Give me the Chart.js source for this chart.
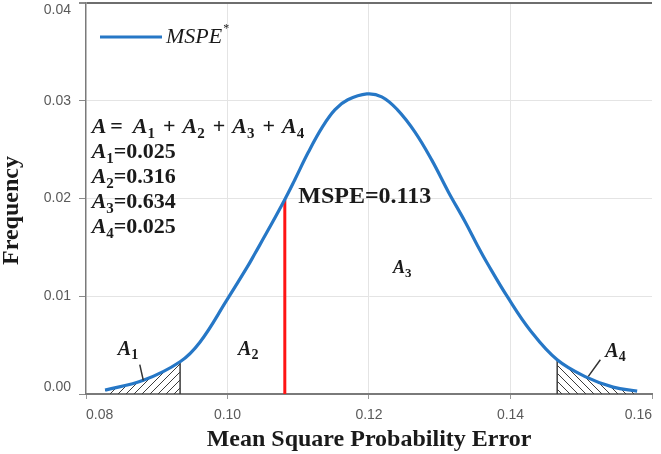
<!DOCTYPE html>
<html>
<head>
<meta charset="utf-8">
<script src="https://cdn.jsdelivr.net/npm/chart.js@4/dist/chart.umd.min.js"></script>
<style>
html,body{margin:0;padding:0;background:#ffffff;}
#wrap{width:661px;height:454px;position:relative;}
</style>
</head>
<body>
<div id="wrap"><canvas id="c" width="661" height="454"></canvas></div>
<script>
// ---- data ----
const mspeX = [0.0827, 0.0881, 0.0933, 0.0961, 0.0999, 0.1028, 0.1039, 0.1060, 0.1081, 0.1095,
               0.1114, 0.1134, 0.1152, 0.1170, 0.1197, 0.1218, 0.1240, 0.1265, 0.1289, 0.1312,
               0.1336, 0.1354, 0.1367, 0.1396, 0.1428, 0.1466, 0.1508, 0.1545, 0.1579];
const mspeY = [0.0004, 0.0014, 0.0033, 0.0053, 0.0096, 0.0130, 0.0144, 0.0171, 0.0199, 0.0219,
               0.0247, 0.0273, 0.0291, 0.0301, 0.0307, 0.0304, 0.0291, 0.0268, 0.0239, 0.0207,
               0.0176, 0.0151, 0.0134, 0.0099, 0.0065, 0.0035, 0.0017, 0.0007, 0.0003];
const xTickValues = [0.08, 0.10, 0.12, 0.14, 0.16];
const yTickValues = [0.00, 0.01, 0.02, 0.03, 0.04];
const areaNames   = ['1', '2', '3', '4'];
const areaValues  = [0.025, 0.316, 0.634, 0.025];
const mspeValue   = 0.113;
const mspeMarkX   = 0.1081;   // where the red marker is drawn on the axis
const tailLeftEnd = 0.0933;   // right edge of hatched A1
const tailRightStart = 0.1466; // left edge of hatched A4

// ---- derived series ----
const curve = mspeX.map((x, i) => ({x, y: mspeY[i]}));
const leftTail = curve.filter(p => p.x <= tailLeftEnd);
const rightTail = curve.filter(p => p.x >= tailRightStart);
const atX = v => curve.find(p => p.x === v).y;
const markerLine = [{x: mspeMarkX, y: 0}, {x: mspeMarkX, y: atX(mspeMarkX)}];
const leftEdge = [{x: tailLeftEnd, y: 0}, {x: tailLeftEnd, y: atX(tailLeftEnd)}];
const rightEdge = [{x: tailRightStart, y: 0}, {x: tailRightStart, y: atX(tailRightStart)}];

const BLUE = '#2677c6';
const SERIF = '"Liberation Serif","Times New Roman",serif';
const SANS = '"Liberation Sans",Arial,sans-serif';

function hatch(dir) {
  const s = 8;
  const c = document.createElement('canvas');
  c.width = s; c.height = s;
  const g = c.getContext('2d');
  g.strokeStyle = '#3c3c3c';
  g.lineWidth = 1;
  g.beginPath();
  if (dir > 0) {
    g.moveTo(-1, s + 1); g.lineTo(s + 1, -1);
    g.moveTo(-3, 3); g.lineTo(3, -3);
    g.moveTo(s - 3, s + 3); g.lineTo(s + 3, s - 3);
  } else {
    g.moveTo(-1, -1); g.lineTo(s + 1, s + 1);
    g.moveTo(-3, s - 3); g.lineTo(3, s + 3);
    g.moveTo(s - 3, -3); g.lineTo(s + 3, 3);
  }
  g.stroke();
  return g.createPattern(c, 'repeat');
}

function rich(ctx, x0, yb, parts) {
  let x = x0;
  for (const p of parts) {
    if (p.gap !== undefined) { x += p.gap; continue; }
    ctx.font = p.f;
    ctx.fillText(p.t, x, yb + (p.dy || 0));
    x += ctx.measureText(p.t).width;
  }
  return x;
}

const iB22 = `italic bold 22px ${SERIF}`;
const B22 = `bold 22px ${SERIF}`;
const S15 = `bold 15px ${SERIF}`;
const iB20 = `italic bold 20px ${SERIF}`;
const S14 = `bold 14px ${SERIF}`;

const annotations = {
  id: 'annotations',
  afterDatasetsDraw(chart) {
    const {ctx, scales: {x, y}, chartArea: ca} = chart;
    const X = v => x.getPixelForValue(v), Y = v => y.getPixelForValue(v);
    ctx.save();
    ctx.textAlign = 'left';
    ctx.textBaseline = 'alphabetic';
    ctx.fillStyle = '#1a1a1a';

    // legend (top-left inside plot)
    const ly = ca.top + 34;
    ctx.strokeStyle = BLUE; ctx.lineWidth = 3;
    ctx.beginPath(); ctx.moveTo(ca.left + 14, ly); ctx.lineTo(ca.left + 76, ly); ctx.stroke();
    rich(ctx, ca.left + 80, ly + 6, [
      {t: 'MSPE', f: `italic 22px ${SERIF}`},
      {gap: 1},
      {t: '*', f: `12px ${SERIF}`, dy: -11}
    ]);

    // formula block
    const bx = X(0.0808), b0 = Y(0.0267);
    rich(ctx, bx, b0, [
      {t: 'A', f: iB22}, {gap: 4}, {t: '=', f: B22}, {gap: 10},
      {t: 'A', f: iB22}, {t: areaNames[0], f: S15, dy: 5}, {gap: 8}, {t: '+', f: B22}, {gap: 7},
      {t: 'A', f: iB22}, {t: areaNames[1], f: S15, dy: 5}, {gap: 8}, {t: '+', f: B22}, {gap: 7},
      {t: 'A', f: iB22}, {t: areaNames[2], f: S15, dy: 5}, {gap: 8}, {t: '+', f: B22}, {gap: 7},
      {t: 'A', f: iB22}, {t: areaNames[3], f: S15, dy: 5}
    ]);
    areaValues.forEach((v, i) => {
      rich(ctx, bx, b0 + 25 * (i + 1), [
        {t: 'A', f: iB22}, {t: areaNames[i], f: S15, dy: 5},
        {t: '=' + v.toFixed(3), f: B22}
      ]);
    });

    // MSPE label
    ctx.font = `bold 24px ${SERIF}`;
    ctx.fillText('MSPE=' + mspeValue.toFixed(3), X(0.1100), Y(0.0195));

    // region labels
    const lab = (xv, yv, k, big, small, dy) =>
      rich(ctx, X(xv), Y(yv), [{t: 'A', f: big}, {t: areaNames[k], f: small, dy: dy}]);
    lab(0.0845, 0.0040, 0, iB20, S14, 4);
    lab(0.1015, 0.0040, 1, iB20, S14, 4);
    lab(0.1234, 0.0124, 2, `italic bold 18px ${SERIF}`, `bold 13px ${SERIF}`, 4);
    lab(0.1534, 0.0038, 3, iB20, S14, 4);

    // leader lines
    ctx.strokeStyle = '#333333'; ctx.lineWidth = 1.5;
    ctx.beginPath();
    ctx.moveTo(X(0.0876), Y(0.0030)); ctx.lineTo(X(0.0881), Y(0.0014));
    ctx.moveTo(X(0.1527), Y(0.0035)); ctx.lineTo(X(0.1510), Y(0.0018));
    ctx.stroke();
    ctx.restore();
  }
};

const lineDefaults = {pointRadius: 0, pointHoverRadius: 0, tension: 0.4, cubicInterpolationMode: 'default'};

new Chart(document.getElementById('c'), {
  type: 'line',
  data: {
    datasets: [
      Object.assign({label: 'MSPE*', data: curve, borderColor: BLUE, borderWidth: 3.2, fill: false, order: 0}, lineDefaults),
      Object.assign({label: 'MSPE=0.113', data: markerLine, borderColor: '#ff1414', borderWidth: 3, fill: false, order: 1}, lineDefaults),
      Object.assign({label: 'A1 tail', data: leftTail, borderWidth: 0, borderColor: 'rgba(0,0,0,0)', backgroundColor: hatch(1), fill: 'origin', order: 3}, lineDefaults),
      Object.assign({label: 'A4 tail', data: rightTail, borderWidth: 0, borderColor: 'rgba(0,0,0,0)', backgroundColor: hatch(-1), fill: 'origin', order: 3}, lineDefaults),
      Object.assign({label: 'A1 edge', data: leftEdge, borderColor: '#3c3c3c', borderWidth: 1.5, fill: false, order: 2}, lineDefaults),
      Object.assign({label: 'A4 edge', data: rightEdge, borderColor: '#3c3c3c', borderWidth: 1.5, fill: false, order: 2}, lineDefaults)
    ]
  },
  options: {
    responsive: false,
    devicePixelRatio: 1,
    animation: false,
    events: [],
    layout: {padding: {top: 3, right: 9, left: 0, bottom: 0}},
    plugins: {legend: {display: false}, tooltip: {enabled: false}},
    scales: {
      x: {
        type: 'linear', min: xTickValues[0], max: xTickValues[xTickValues.length - 1],
        afterBuildTicks: s => { s.ticks = xTickValues.map(v => ({value: v})); },
        afterFit: s => { s.height = 60; s.paddingLeft = 0; s.paddingRight = 0; },
        ticks: {
          align: 'inner', maxRotation: 0, autoSkip: false, padding: 8,
          color: '#5a5a5a', font: {family: SANS, size: 14},
          callback: v => (+v).toFixed(2)
        },
        grid: {
          color: c => (c.tick && (c.tick.value === xTickValues[0] || c.tick.value === xTickValues[xTickValues.length - 1])) ? 'rgba(0,0,0,0)' : '#e4e4e4',
          tickColor: '#9a9a9a', tickLength: 5, lineWidth: 1
        },
        border: {color: '#7a7a7a', width: 2},
        title: {
          display: true, text: 'Mean Square Probability Error', color: '#1a1a1a',
          font: {family: SERIF, size: 24, weight: 'bold', lineHeight: 1.0},
          padding: {top: 0, bottom: 2}
        }
      },
      y: {
        type: 'linear', min: yTickValues[0], max: yTickValues[yTickValues.length - 1],
        afterBuildTicks: s => { s.ticks = yTickValues.map(v => ({value: v})); },
        afterFit: s => { s.width = 86; s.paddingTop = 0; s.paddingBottom = 0; },
        ticks: {
          padding: 8, color: '#5a5a5a', font: {family: SANS, size: 14, lineHeight: 1.0},
          callback: v => {
            const s = (+v).toFixed(2);
            if (v === yTickValues[yTickValues.length - 1]) return ['', s];
            if (v === yTickValues[0]) return [s, ''];
            return s;
          }
        },
        grid: {
          color: c => {
            if (!c.tick) return '#e4e4e4';
            if (c.tick.value === yTickValues[yTickValues.length - 1]) return '#6e6e6e';
            if (c.tick.value === yTickValues[0]) return 'rgba(0,0,0,0)';
            return '#e4e4e4';
          },
          lineWidth: c => (c.tick && c.tick.value === yTickValues[yTickValues.length - 1]) ? 2 : 1,
          tickColor: '#8a8a8a', tickLength: 7
        },
        border: {color: '#7a7a7a', width: 1.5},
        title: {
          display: true, text: 'Frequency    ', color: '#1a1a1a',
          font: {family: SERIF, size: 24, weight: 'bold', lineHeight: 1.0},
          padding: {top: 0, bottom: 0}
        }
      }
    }
  },
  plugins: [annotations]
});
</script>
</body>
</html>
